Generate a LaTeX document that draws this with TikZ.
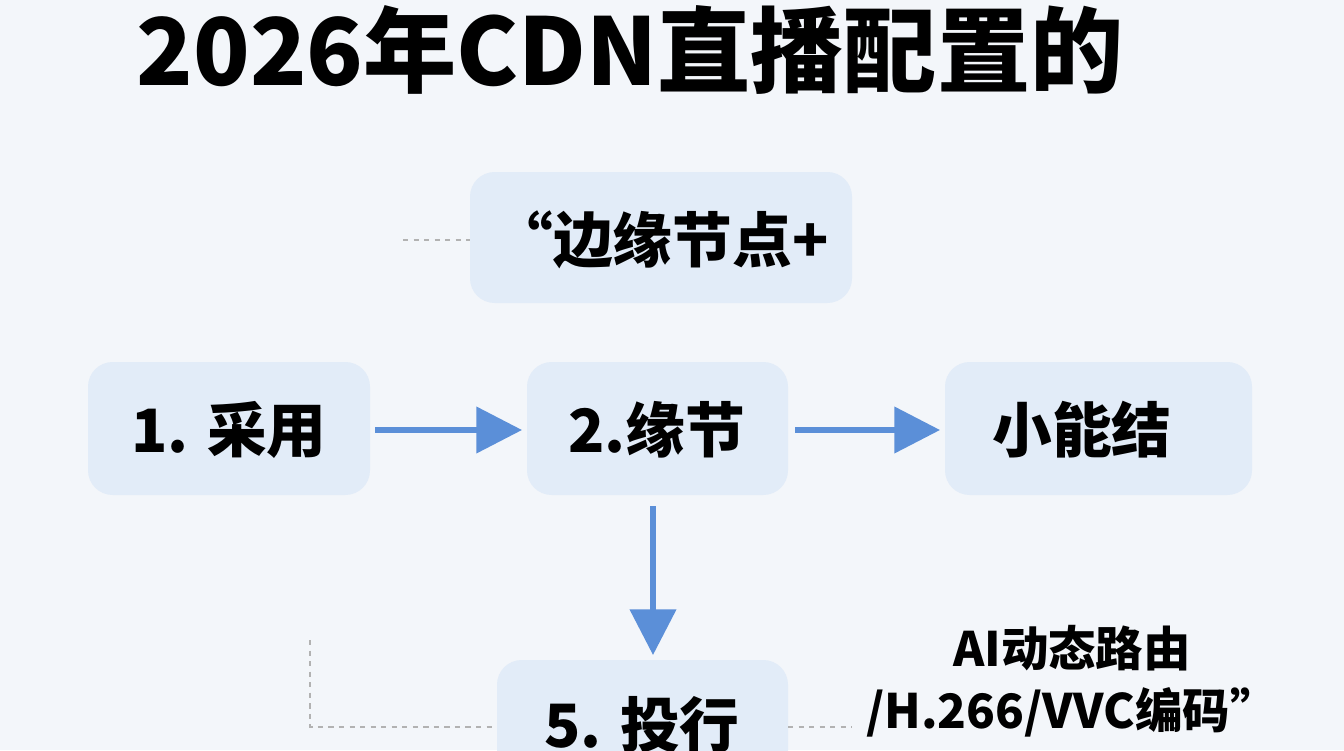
\documentclass[tikz,border=0pt]{standalone}
\usepackage{fontspec}
\setmainfont{Noto Sans CJK SC}
\usetikzlibrary{arrows.meta}
\definecolor{boxfill}{HTML}{E2ECF8}
\definecolor{arrowblue}{HTML}{5B8FD8}
\definecolor{bgtint}{HTML}{F3F6FA}
\tikzset{
  stepbox/.style={draw=none, fill=boxfill, rounded corners=14pt},
  flow/.style={arrowblue, line width=3pt, -{Triangle[length=26pt,width=26pt]}},
  guide/.style={gray!60, dashed, line width=0.7pt},
  lbl/.style={font=\fontsize{34}{40}\selectfont\bfseries}
}
\begin{document}
\begin{tikzpicture}[x=0.02cm, y=-0.02cm]
		\fill[bgtint] (0,0) rectangle (1344,750);
		\useasboundingbox (0,0) rectangle (1344,750);
		\clip (0,0) rectangle (1344,750);

		\node [font=\fontsize{53}{60}\selectfont\bfseries] (title) at (630,50) {2026年CDN直播配置的};

		\fill[stepbox] (470,172) rectangle (852,303);
		\fill[stepbox] (88,362) rectangle (370,495);
		\fill[stepbox] (527,362) rectangle (788,495);
		\fill[stepbox] (945,362) rectangle (1252,495);
		\fill[stepbox] (497,660) rectangle (788,790);

		\node [lbl] (edge) at (661,240) {“边缘节点+};
		\node [lbl] (adopt) at (229,430) {1. 采用};
		\node [lbl] (node) at (657,430) {2.缘节};
		\node [lbl] (small) at (1082,430) {小能结};
		\node [lbl] (invest) at (642,725) {5. 投行};
		\node [lbl, align=center, font=\fontsize{27}{35}\selectfont\bfseries] (ai) at (1072,681) {AI动态路由\\/H.266/VVC编码”};

		\coordinate (g1) at (403,240);
		\coordinate (g2) at (310,640);
		\coordinate (g3) at (310,727);
		\coordinate (g4) at (852,727);
		\draw [guide] (g1) to (470,240);
		\draw [guide] (g2) to (g3) to (497,727);
		\draw [guide] (788,727) to (g4);

		\draw [flow] (375,430) to (522,430);
		\draw [flow] (795,430) to (940,430);
		\draw [flow] (653,506) to (653,655);
\end{tikzpicture}
\end{document}
